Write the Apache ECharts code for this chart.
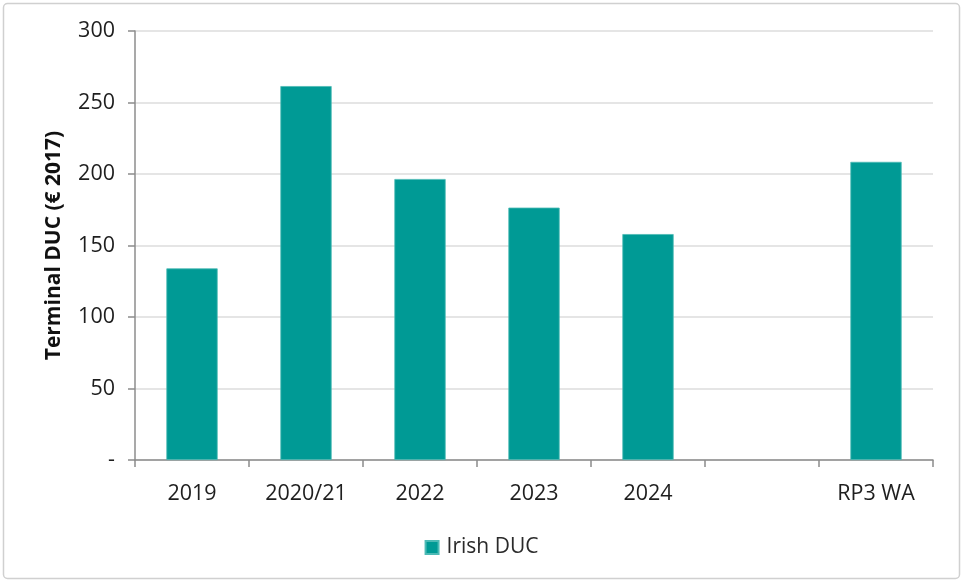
<!DOCTYPE html>
<html>
<head>
<meta charset="utf-8">
<script src="https://cdn.jsdelivr.net/npm/echarts@6/dist/echarts.min.js"></script>
<style>
  html, body { margin: 0; padding: 0; background: #ffffff; }
  #chart { width: 963px; height: 582px; }
</style>
</head>
<body>
<div id="chart"></div>
<script>
// Terminal DUC per year, in 2017 euros
const categories = ['2019', '2020/21', '2022', '2023', '2024', '', 'RP3 WA'];
const irishDuc = [134, 261.5, 196.5, 176.5, 158, null, 208.5];
const seriesName = 'Irish DUC';
const yTicks = { min: 0, max: 300, interval: 50 };
const yAxisTitle = 'Terminal DUC (€ 2017)';

const FONT = '"Open Sans", sans-serif';
const chart = echarts.init(document.getElementById('chart'), null, { renderer: 'canvas' });

chart.setOption({
  animation: false,
  backgroundColor: '#ffffff',
  textStyle: { fontFamily: FONT },
  graphic: [{
    type: 'rect',
    shape: { x: 3.5, y: 3.5, width: 956, height: 575, r: 4 },
    style: { fill: 'none', stroke: '#d0d0d0', lineWidth: 1.5 },
    silent: true
  }],
  grid: { left: 135, right: 30, top: 31, bottom: 122, containLabel: false },
  legend: {
    data: [seriesName],
    bottom: 19,
    left: 'center',
    icon: 'rect',
    itemWidth: 13,
    itemHeight: 13,
    itemGap: 8,
    textStyle: { fontFamily: FONT, fontSize: 21, color: '#2a2a2a', padding: [0, 0, 0, 3] }
  },
  xAxis: {
    type: 'category',
    data: categories,
    axisLine: { lineStyle: { color: '#8c8c8c', width: 1.5 } },
    axisTick: { show: true, length: 7, alignWithLabel: false, lineStyle: { color: '#8c8c8c', width: 1.5 } },
    axisLabel: { fontFamily: FONT, fontSize: 21.5, color: '#1e1e1e', margin: 23 },
    splitLine: { show: false }
  },
  yAxis: {
    type: 'value',
    min: yTicks.min,
    max: yTicks.max,
    interval: yTicks.interval,
    name: yAxisTitle,
    nameLocation: 'middle',
    nameGap: 70,
    nameRotate: 90,
    nameTextStyle: { fontFamily: FONT, fontSize: 21, fontWeight: 'bold', color: '#111111' },
    axisLine: { show: true, lineStyle: { color: '#8c8c8c', width: 1.5 } },
    axisTick: { show: true, length: 7, lineStyle: { color: '#8c8c8c', width: 1.5 } },
    axisLabel: {
      fontFamily: FONT, fontSize: 21.5, color: '#1e1e1e', margin: 20,
      formatter: v => (v === 0 ? '-' : String(v))
    },
    splitLine: { show: true, lineStyle: { color: '#dcdcdc', width: 1.5 } }
  },
  series: [{
    name: seriesName,
    type: 'bar',
    data: irishDuc,
    barWidth: '45%',
    itemStyle: { color: '#009a95', borderColor: '#4dbab5', borderWidth: 0.8 }
  }]
});
</script>
</body>
</html>
